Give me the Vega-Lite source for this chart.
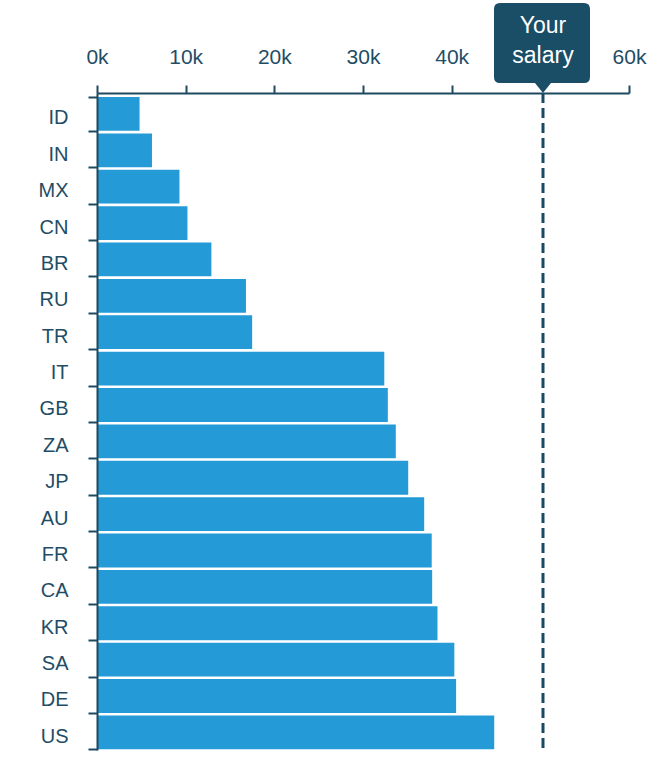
{
  "$schema": "https://vega.github.io/schema/vega-lite/v6.json",
  "width": 532,
  "height": 657,
  "autosize": "none",
  "padding": {"left": 97, "top": 93, "right": 40, "bottom": 27},
  "background": "white",
  "config": {"view": {"stroke": null}, "font": "Liberation Sans"},
  "datasets": {
    "salaries": [
      {"country": "ID", "salary": 4800},
      {"country": "IN", "salary": 6200},
      {"country": "MX", "salary": 9300},
      {"country": "CN", "salary": 10200},
      {"country": "BR", "salary": 12900},
      {"country": "RU", "salary": 16800},
      {"country": "TR", "salary": 17500},
      {"country": "IT", "salary": 32400},
      {"country": "GB", "salary": 32800},
      {"country": "ZA", "salary": 33700},
      {"country": "JP", "salary": 35100},
      {"country": "AU", "salary": 36900},
      {"country": "FR", "salary": 37750},
      {"country": "CA", "salary": 37800},
      {"country": "KR", "salary": 38400},
      {"country": "SA", "salary": 40300},
      {"country": "DE", "salary": 40500},
      {"country": "US", "salary": 44800}
    ],
    "mine": [{"label": "Your salary", "salary": 50300}]
  },
  "layer": [
    {
      "data": {"name": "salaries"},
      "mark": {"type": "bar", "color": "#249bd6"},
      "encoding": {
        "y": {
          "field": "country",
          "type": "nominal",
          "sort": "x",
          "scale": {"paddingInner": 0.07, "paddingOuter": 0.065, "align": 0.85},
          "axis": {
            "title": null,
            "zindex": 1,
            "domainColor": "#1d4a60",
            "domainWidth": 2,
            "tickColor": "#1d4a60",
            "tickWidth": 2,
            "tickSize": 9,
            "tickBand": "extent",
            "tickExtra": true,
            "labelFontSize": 20,
            "labelColor": "#1f4d66",
            "labelPadding": 20,
            "labelOffset": 4
          }
        },
        "x": {
          "field": "salary",
          "type": "quantitative",
          "scale": {"domain": [0, 60000]},
          "axis": {
            "orient": "top",
            "title": null,
            "grid": false,
            "zindex": 1,
            "values": [0, 10000, 20000, 30000, 40000, 60000],
            "labelExpr": "datum.value / 1000 + 'k'",
            "labelFlush": false,
            "labelOverlap": false,
            "domainColor": "#1d4a60",
            "domainWidth": 2,
            "tickColor": "#1d4a60",
            "tickWidth": 2,
            "tickSize": 8,
            "labelFontSize": 21,
            "labelColor": "#1f4d66",
            "labelPadding": 18
          }
        }
      }
    },
    {
      "data": {"name": "mine"},
      "mark": {"type": "rule", "color": "#1a4a63", "strokeWidth": 3, "strokeDash": [10, 5]},
      "encoding": {"x": {"field": "salary", "type": "quantitative"}}
    },
    {
      "data": {"name": "mine"},
      "mark": {
        "type": "point",
        "shape": "M0,0 L-8,-10 L-43,-10 Q-49,-10 -49,-16 L-49,-84 Q-49,-90 -43,-90 L41,-90 Q47,-90 47,-84 L47,-16 Q47,-10 41,-10 L8,-10 Z",
        "size": 4,
        "filled": true,
        "color": "#1a4d66",
        "opacity": 1,
        "strokeWidth": 0
      },
      "encoding": {"x": {"field": "salary", "type": "quantitative"}, "y": {"value": 0}}
    },
    {
      "data": {"name": "mine"},
      "mark": {
        "type": "text",
        "lineBreak": " ",
        "color": "white",
        "fontSize": 23,
        "dy": -67,
        "lineHeight": 30,
        "baseline": "middle",
        "align": "center"
      },
      "encoding": {
        "x": {"field": "salary", "type": "quantitative"},
        "y": {"value": 0},
        "text": {"field": "label"}
      }
    }
  ]
}
